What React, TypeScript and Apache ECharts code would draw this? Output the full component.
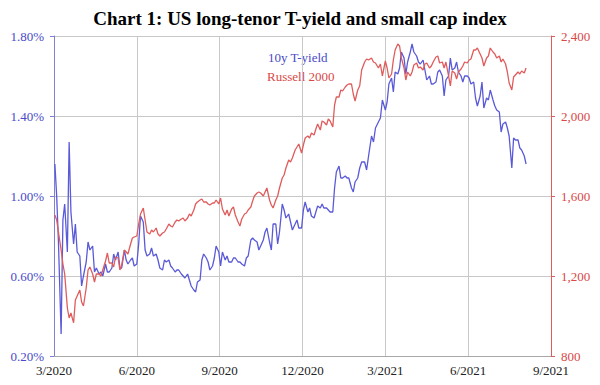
import React, { useEffect, useRef } from "react";
import * as echarts from "echarts";

const titleText = "Chart 1: US long-tenor T-yield and small cap index";
const xTickLabels = ["3/2020", "6/2020", "9/2020", "12/2020", "3/2021", "6/2021", "9/2021"];
const seriesNames = ["10y T-yield", "Russell 2000"];

// Observations on Mon / Wed / Fri of each week, starting Monday 2 Mar 2020
const startDate = "2020-03-02";

// 10-year Treasury yield, %
const yieldValues = [
  1.16, 1.00, 0.77, 0.31, 0.88, 0.96, 0.72, 1.27, 0.92, 0.76, 0.86, 0.72,
  0.70, 0.55, 0.60, 0.67, 0.77, 0.73, 0.75, 0.62, 0.64, 0.61, 0.62, 0.60,
  0.66, 0.62, 0.62, 0.64, 0.71, 0.68, 0.72, 0.64, 0.64, 0.73, 0.68, 0.66,
  0.68, 0.69, 0.65, 0.66, 0.76, 0.90, 0.87, 0.73, 0.70, 0.71, 0.74, 0.70,
  0.71, 0.68, 0.64, 0.63, 0.68, 0.67, 0.68, 0.65, 0.64, 0.62, 0.63, 0.63,
  0.61, 0.60, 0.59, 0.61, 0.58, 0.55, 0.53, 0.52, 0.57, 0.58, 0.68, 0.71,
  0.69, 0.67, 0.63, 0.65, 0.69, 0.75, 0.72, 0.65, 0.72, 0.68, 0.70, 0.67,
  0.67, 0.69, 0.69, 0.67, 0.67, 0.66, 0.65, 0.69, 0.70, 0.78, 0.79, 0.78,
  0.77, 0.73, 0.75, 0.78, 0.82, 0.84, 0.77, 0.73, 0.86, 0.86, 0.76, 0.82,
  0.96, 0.93, 0.89, 0.91, 0.87, 0.83, 0.86, 0.88, 0.84, 0.84, 0.93, 0.97,
  0.92, 0.94, 0.90, 0.89, 0.92, 0.95, 0.94, 0.96, 0.94, 0.94, 0.93, 0.92,
  0.92, 1.04, 1.12, 1.15, 1.09, 1.09, 1.10, 1.09, 1.09, 1.04, 1.02, 1.07,
  1.09, 1.14, 1.17, 1.17, 1.13, 1.20, 1.30, 1.27, 1.34, 1.37, 1.39, 1.48,
  1.43, 1.47, 1.56, 1.59, 1.52, 1.62, 1.61, 1.64, 1.72, 1.69, 1.61, 1.67,
  1.72, 1.76, 1.72, 1.70, 1.67, 1.66, 1.68, 1.63, 1.58, 1.60, 1.56, 1.56,
  1.57, 1.62, 1.63, 1.60, 1.50, 1.58, 1.60, 1.69, 1.63, 1.64, 1.67, 1.62,
  1.60, 1.57, 1.60, 1.60, 1.59, 1.56, 1.57, 1.49, 1.45, 1.50, 1.57, 1.44,
  1.49, 1.48, 1.53, 1.48, 1.45, 1.43, 1.42, 1.32, 1.36, 1.37, 1.34, 1.30,
  1.14, 1.29, 1.28, 1.28, 1.24, 1.23, 1.20, 1.16,
];

// Russell 2000 index level
const russellValues = [
  1505, 1480, 1420, 1330, 1260, 1210, 1040, 990, 1015, 966, 1080, 1100,
  1130, 1070, 1050, 1140, 1230, 1245, 1210, 1170, 1210, 1210, 1200, 1230,
  1275, 1315, 1265, 1265, 1245, 1295, 1290, 1230, 1255, 1330, 1320, 1310,
  1360, 1390, 1395, 1400, 1460, 1510, 1540, 1480, 1420, 1410, 1430, 1420,
  1440, 1410, 1400, 1415, 1420, 1435, 1460, 1450, 1445, 1470, 1480, 1475,
  1485, 1490, 1475, 1490, 1510, 1500, 1530, 1560, 1570, 1580, 1585, 1570,
  1570, 1560, 1555, 1565, 1565, 1580, 1560, 1590, 1535, 1505, 1530, 1500,
  1535, 1545, 1505, 1470, 1450, 1485, 1510, 1515, 1530, 1545, 1575, 1600,
  1615, 1620, 1615, 1600, 1620, 1640, 1580, 1555, 1540, 1580, 1600, 1640,
  1690, 1705, 1740, 1780, 1770, 1790, 1830, 1845, 1860, 1815, 1855, 1890,
  1900, 1890, 1915, 1905, 1935, 1960, 1930, 1975, 1970, 1955, 1985, 1975,
  1945, 2055, 2095, 2095, 2130, 2125, 2145, 2155, 2160, 2160, 2110, 2075,
  2130, 2150, 2230, 2270, 2285, 2280, 2290, 2270, 2265, 2240, 2260, 2200,
  2275, 2240, 2190, 2210, 2280, 2330, 2360, 2350, 2290, 2240, 2180, 2220,
  2200, 2220, 2255, 2265, 2240, 2245, 2230, 2260, 2265, 2240, 2250, 2270,
  2295, 2300, 2265, 2270, 2240, 2270, 2200, 2150, 2225, 2215, 2185, 2220,
  2235, 2250, 2270, 2265, 2280, 2285, 2330, 2330, 2340, 2310, 2290, 2250,
  2290, 2300, 2340, 2320, 2310, 2290, 2300, 2270, 2285, 2260, 2220, 2165,
  2130, 2195, 2205, 2220, 2210, 2225, 2215, 2240,
];

const serif = "'Liberation Serif', 'Times New Roman', serif";
const BLUE = "#5a5ad8";
const RED = "#e05c5c";

function observationDates(n: number): Date[] {
  const [y, m, d] = startDate.split("-").map(Number);
  const start = Date.UTC(y, m - 1, d);
  const out: Date[] = [];
  for (let i = 0; i < n; i++) {
    const week = Math.floor(i / 3);
    const day = (i % 3) * 2;
    out.push(new Date(start + (week * 7 + day) * 86400000));
  }
  return out;
}

// months elapsed since 1 Mar 2020
function monthPos(dt: Date): number {
  const y = dt.getUTCFullYear();
  const m = dt.getUTCMonth();
  const d = dt.getUTCDate();
  const days = new Date(Date.UTC(y, m + 1, 0)).getUTCDate();
  return (y - 2020) * 12 + (m - 2) + (d - 1) / days;
}

export default function App() {
  const ref = useRef<HTMLDivElement>(null);
  useEffect(() => {
    if (!ref.current) return;
    const chart = echarts.init(ref.current, null, { renderer: "svg" });
    const dates = observationDates(Math.max(yieldValues.length, russellValues.length));
    const xs = dates.map(monthPos);
    const yieldData = yieldValues.map((v, i) => [xs[i], v]);
    const russellData = russellValues.map((v, i) => [xs[i], v]);

    chart.setOption({
      animation: false,
      backgroundColor: "#ffffff",
      title: {
        text: titleText,
        left: "center",
        top: 4,
        textStyle: { fontFamily: serif, fontWeight: "bold", fontSize: 19, color: "#000" },
      },
      grid: { left: 54, right: 49, top: 36, bottom: 29, containLabel: false },
      xAxis: {
        type: "value",
        min: 0,
        max: 18,
        interval: 3,
        axisLine: { show: true, lineStyle: { color: "#a8a8a8", width: 1 } },
        axisTick: { show: false },
        splitLine: { show: true, lineStyle: { color: "#c8c8c8", width: 1 } },
        axisLabel: {
          color: "#222",
          fontFamily: serif,
          fontSize: 13,
          margin: 8,
          formatter: (v: number) => xTickLabels[Math.round(v / 3)] ?? "",
        },
      },
      yAxis: [
        {
          type: "value",
          min: 0.2,
          max: 1.8,
          interval: 0.4,
          position: "left",
          axisLine: { show: true, lineStyle: { color: "#8080d0", width: 1 } },
          axisTick: { show: true, length: 4, lineStyle: { color: "#8080d0" } },
          splitLine: { show: true, lineStyle: { color: "#c8c8c8", width: 1 } },
          axisLabel: {
            color: "#4a4ac8",
            fontFamily: serif,
            fontSize: 13,
            margin: 10,
            formatter: (v: number) => v.toFixed(2) + "%",
          },
        },
        {
          type: "value",
          min: 800,
          max: 2400,
          interval: 400,
          position: "right",
          axisLine: { show: true, lineStyle: { color: RED, width: 1 } },
          axisTick: { show: true, length: 4, lineStyle: { color: RED } },
          splitLine: { show: false },
          axisLabel: {
            color: "#d84848",
            fontFamily: serif,
            fontSize: 13,
            margin: 10,
            formatter: (v: number) => v.toLocaleString("en-US"),
          },
        },
      ],
      graphic: [
        {
          type: "text",
          left: 268,
          top: 51,
          style: { text: seriesNames[0], fill: "#4a4ac8", font: `13px ${serif}` },
        },
        {
          type: "text",
          left: 267,
          top: 70,
          style: { text: seriesNames[1], fill: "#d84848", font: `13px ${serif}` },
        },
      ],
      series: [
        {
          name: seriesNames[0],
          type: "line",
          yAxisIndex: 0,
          data: yieldData,
          showSymbol: false,
          lineStyle: { color: BLUE, width: 1.3 },
          itemStyle: { color: BLUE },
        },
        {
          name: seriesNames[1],
          type: "line",
          yAxisIndex: 1,
          data: russellData,
          showSymbol: false,
          lineStyle: { color: RED, width: 1.3 },
          itemStyle: { color: RED },
        },
      ],
    });
    return () => chart.dispose();
  }, []);
  return <div ref={ref} style={{ width: 600, height: 385, position: "absolute", left: 0, top: 0 }} />;
}
